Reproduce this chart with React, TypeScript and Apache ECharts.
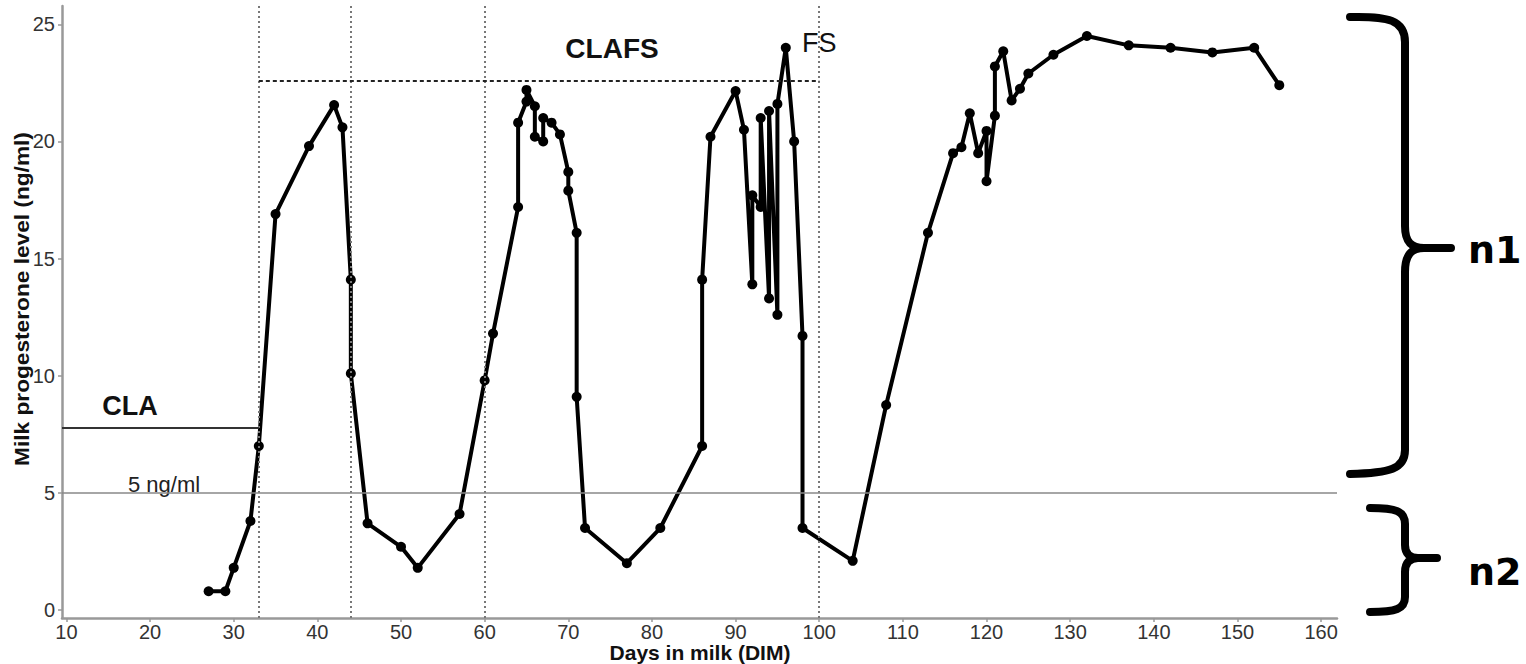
import React, { useEffect, useRef } from "react";
import * as echarts from "echarts";

const days: number[] = [
  27, 29, 30, 32, 33, 35, 39, 42, 43, 44, 44, 46, 50, 52, 57, 60, 61, 64, 64, 65,
  65, 66, 66, 67, 67, 68, 69, 70, 70, 71, 71, 72, 77, 81, 86, 86, 87, 90, 91, 92,
  92, 93, 93, 94, 94, 95, 95, 96, 97, 98, 98, 104, 108, 113, 116, 117, 118, 119, 120, 120,
  121, 121, 122, 123, 124, 125, 128, 132, 137, 142, 147, 152, 155,
];
const progesterone: number[] = [
  0.8, 0.8, 1.8, 3.8, 7.0, 16.9, 19.8, 21.55, 20.6, 14.1, 10.1, 3.7, 2.7, 1.8, 4.1, 9.8, 11.8, 17.2, 20.8, 21.7,
  22.2, 21.5, 20.2, 20.0, 21.0, 20.8, 20.3, 18.7, 17.9, 16.1, 9.1, 3.5, 2.0, 3.5, 7.0, 14.1, 20.2, 22.15, 20.5, 13.9,
  17.7, 17.2, 21.0, 13.3, 21.3, 12.6, 21.6, 24.0, 20.0, 11.7, 3.5, 2.1, 8.75, 16.1, 19.5, 19.75, 21.2, 19.5, 20.45, 18.3,
  21.1, 23.2, 23.85, 21.75, 22.25, 22.9, 23.7, 24.5, 24.1, 24.0, 23.8, 24.0, 22.4,
];
const xTicks: number[] = [10, 20, 30, 40, 50, 60, 70, 80, 90, 100, 110, 120, 130, 140, 150, 160];
const yTicks: number[] = [0, 5, 10, 15, 20, 25];
const phaseDays: number[] = [33, 44, 60, 100];
const threshold = 5;
const claLevel = 7.8;
const clafsLevel = 22.57;
const claEnd = 33;
const clafsStart = 33;
const clafsEnd = 100;

const X_MIN = 9.47;
const X_MAX = 161.9;
const Y_MIN = -0.34;
const Y_MAX = 25.78;

const FONT = "'Liberation Sans', Arial, Helvetica, sans-serif";

const brace1 =
  "M 1350 17 C 1388 16 1405 20 1405 42 L 1405 226 C 1405 242 1411 248 1424 248 L 1451 248 " +
  "M 1424 248 C 1411 248 1405 255 1405 272 L 1405 450 C 1405 469 1390 473 1350 474";
const brace2 =
  "M 1370 508 C 1396 508 1405 511 1405 524 L 1405 545 C 1405 554 1410 558 1418 558 L 1437 558 " +
  "M 1418 558 C 1410 558 1405 562 1405 572 L 1405 597 C 1405 609 1396 612 1370 612";

export default function App() {
  const ref = useRef<HTMLDivElement>(null);
  useEffect(() => {
    if (!ref.current) return;
    echarts.graphic.registerShape("brace1", echarts.graphic.extendPath(brace1, {}));
    echarts.graphic.registerShape("brace2", echarts.graphic.extendPath(brace2, {}));
    const chart = echarts.init(ref.current, null, { renderer: "svg" });
    const points = days.map((d, i) => [d, progesterone[i]]);
    const axisLineStyle = { color: "#999", width: 2.5 };
    const option: any = {
      animation: false,
      backgroundColor: "#fff",
      grid: { left: 62, right: 189, top: 6, bottom: 46, containLabel: false, outerBoundsMode: "none" },
      xAxis: {
        type: "value",
        min: X_MIN,
        max: X_MAX,
        axisLine: { show: true, onZero: false, lineStyle: axisLineStyle },
        axisTick: { show: true, length: 4, customValues: xTicks, lineStyle: { color: "#999", width: 1.5 } },
        axisLabel: { customValues: xTicks, color: "#333", fontSize: 20, lineHeight: 20, fontFamily: FONT, margin: 4 },
        splitLine: { show: false },
      },
      yAxis: {
        type: "value",
        min: Y_MIN,
        max: Y_MAX,
        axisLine: { show: true, onZero: false, lineStyle: axisLineStyle },
        axisTick: { show: true, length: 4, customValues: yTicks, lineStyle: { color: "#999", width: 1.5 } },
        axisLabel: { customValues: yTicks, color: "#333", fontSize: 20, fontFamily: FONT, margin: 7 },
        splitLine: { show: false },
      },
      series: [
        {
          type: "line",
          data: [],
          z: 1,
          silent: true,
          markLine: {
            silent: true,
            symbol: "none",
            label: { show: false },
            animation: false,
            data: [
              ...phaseDays.map((d) => ({
                xAxis: d,
                lineStyle: { color: "#777", width: 2, type: [2, 3] },
              })),
              {
                yAxis: threshold,
                lineStyle: { color: "#888", width: 1.5, type: "solid" },
              },
              [
                { coord: [X_MIN, claLevel], lineStyle: { color: "#333", width: 2, type: "solid" } },
                { coord: [claEnd, claLevel] },
              ],
              [
                { coord: [clafsStart, clafsLevel], lineStyle: { color: "#222", width: 2, type: [4, 3] } },
                { coord: [clafsEnd, clafsLevel] },
              ],
            ],
          },
        },
        {
          type: "line",
          data: points,
          z: 3,
          symbol: "circle",
          symbolSize: 10,
          showAllSymbol: true,
          lineStyle: { color: "#000", width: 4 },
          itemStyle: { color: "#000" },
        },
      ],
      graphic: [
        {
          type: "text",
          x: 22,
          y: 299,
          rotation: Math.PI / 2,
          scaleX: 1.08,
          style: {
            text: "Milk progesterone level (ng/ml)",
            fontFamily: FONT,
            fontWeight: "bold",
            fontSize: 21,
            fill: "#111",
            align: "center",
            verticalAlign: "middle",
          },
        },
        {
          type: "text",
          x: 700,
          y: 652,
          style: {
            text: "Days in milk (DIM)",
            fontFamily: FONT,
            fontWeight: "bold",
            fontSize: 21,
            lineHeight: 20,
            fill: "#111",
            align: "center",
            verticalAlign: "middle",
          },
        },
        {
          type: "text",
          x: 130,
          y: 406,
          style: { text: "CLA", fontFamily: FONT, fontWeight: "bold", fontSize: 27, fill: "#111", align: "center", verticalAlign: "middle" },
        },
        {
          type: "text",
          x: 612,
          y: 48,
          style: { text: "CLAFS", fontFamily: FONT, fontWeight: "bold", fontSize: 28, fill: "#111", align: "center", verticalAlign: "middle" },
        },
        {
          type: "text",
          x: 802,
          y: 43,
          style: { text: "FS", fontFamily: FONT, fontSize: 27, fill: "#111", align: "left", verticalAlign: "middle" },
        },
        {
          type: "text",
          x: 128,
          y: 484,
          style: { text: "5 ng/ml", fontFamily: FONT, fontSize: 22, fill: "#222", align: "left", verticalAlign: "middle" },
        },
        {
          type: "brace1",
          x: 0,
          y: 0,
          style: { stroke: "#000", lineWidth: 8, fill: "none", lineCap: "round", lineJoin: "round" },
        },
        {
          type: "brace2",
          x: 0,
          y: 0,
          style: { stroke: "#000", lineWidth: 8, fill: "none", lineCap: "round", lineJoin: "round" },
        },
        {
          type: "text",
          x: 1468,
          y: 250,
          style: { text: "n1", fontFamily: "'DejaVu Sans', Verdana, sans-serif", fontWeight: "bold", fontSize: 38, fill: "#000", align: "left", verticalAlign: "middle" },
        },
        {
          type: "text",
          x: 1468,
          y: 572,
          style: { text: "n2", fontFamily: "'DejaVu Sans', Verdana, sans-serif", fontWeight: "bold", fontSize: 38, fill: "#000", align: "left", verticalAlign: "middle" },
        },
      ],
    };
    chart.setOption(option);
    return () => chart.dispose();
  }, []);
  return (
    <div
      ref={ref}
      style={{ position: "absolute", left: 0, top: 0, width: 1526, height: 664, background: "#fff" }}
    />
  );
}
